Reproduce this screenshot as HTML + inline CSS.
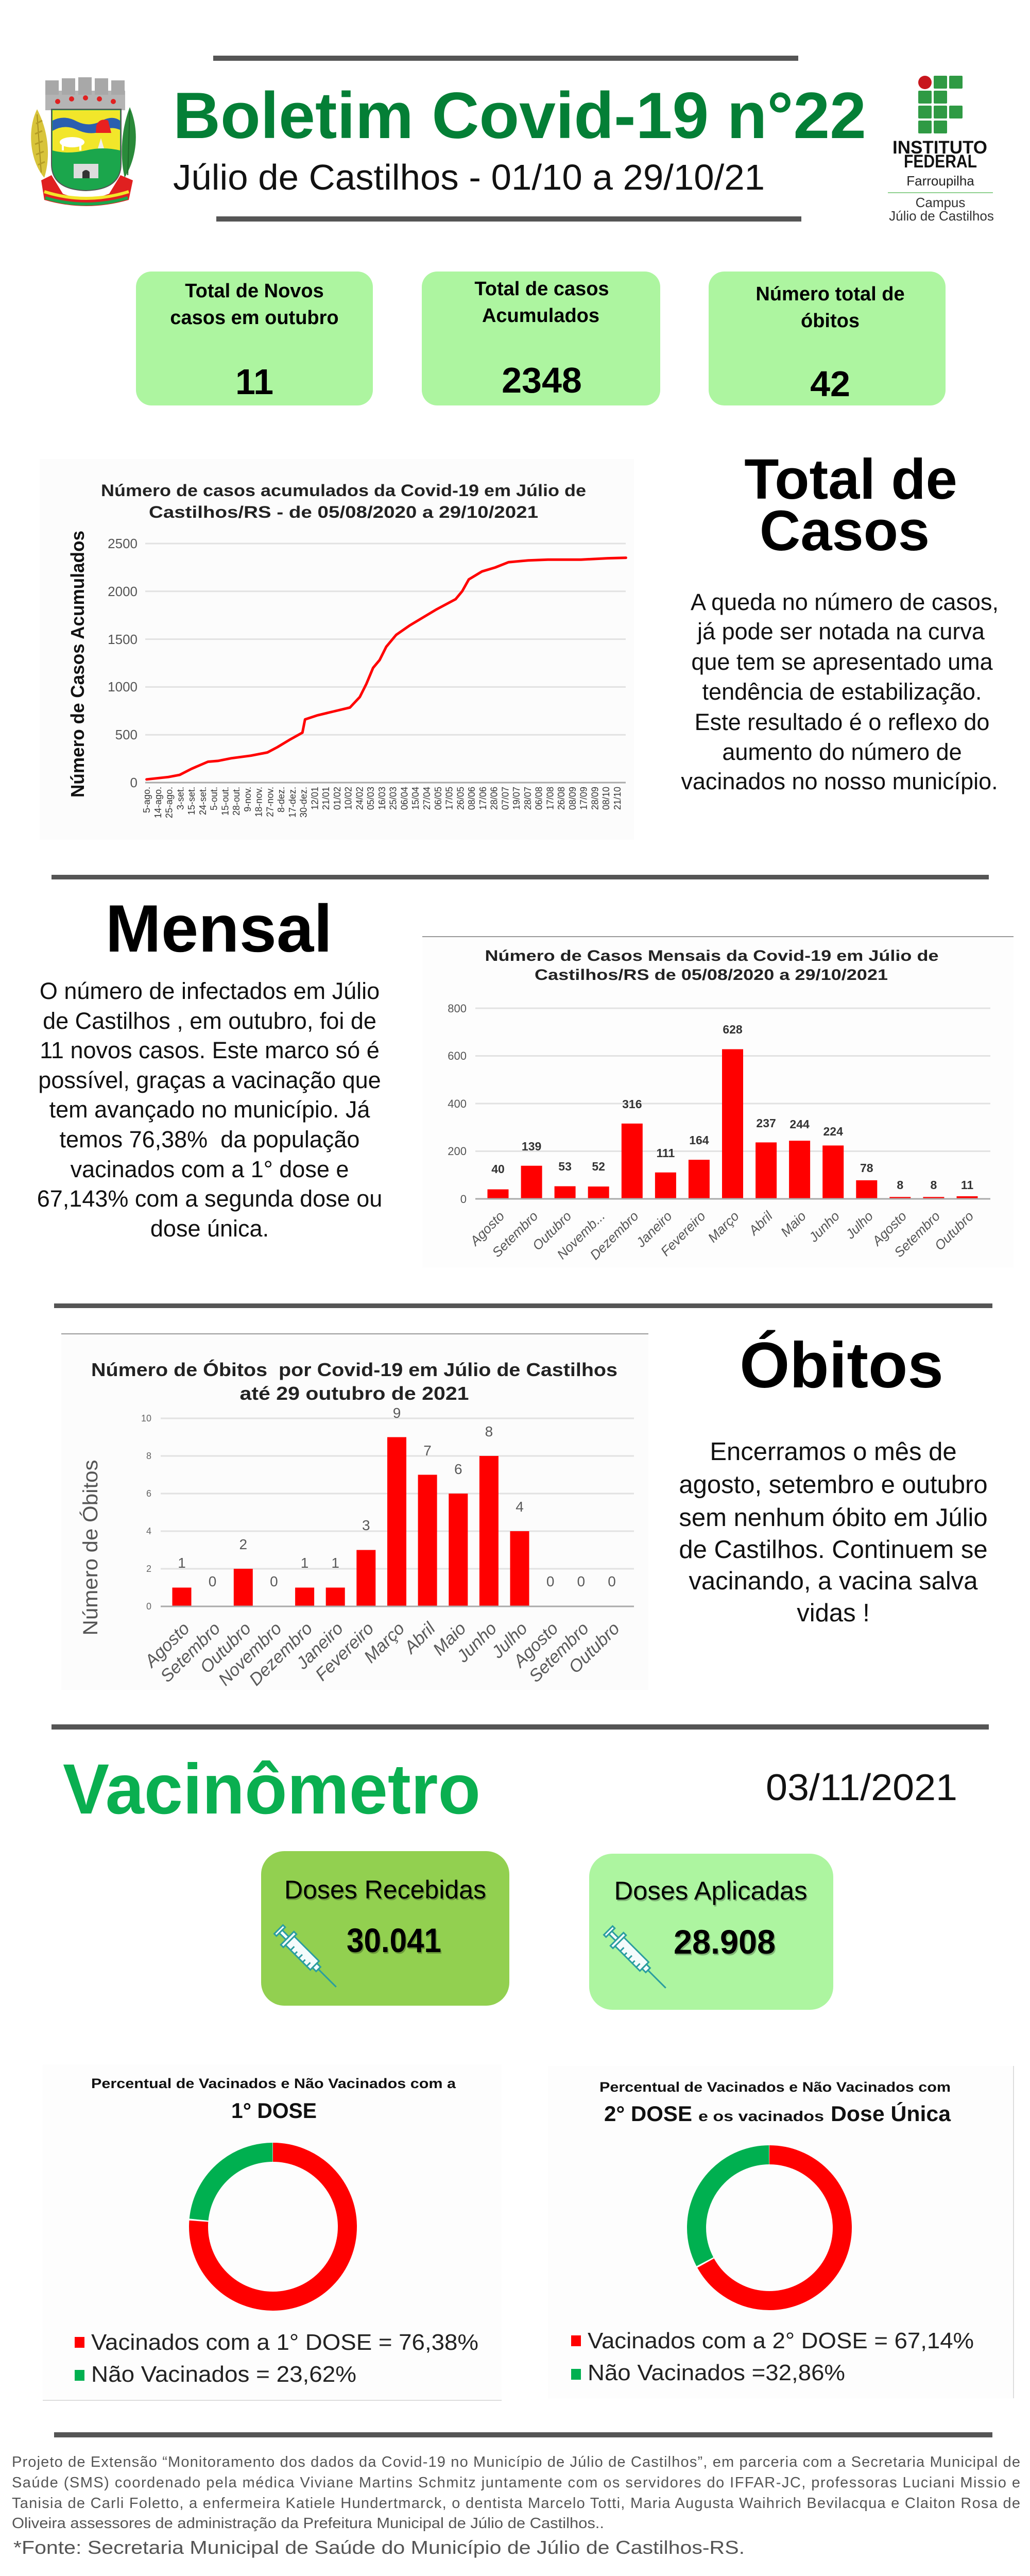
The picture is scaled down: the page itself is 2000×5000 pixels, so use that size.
<!DOCTYPE html>
<html><head><meta charset="utf-8"><title>Boletim Covid-19 n°22</title>
<style>
html,body{margin:0;padding:0;background:#fff;}
svg{display:block;}
text{font-family:"Liberation Sans",Arial,sans-serif;}
</style></head>
<body>
<svg xmlns="http://www.w3.org/2000/svg" width="2000" height="5000" viewBox="0 0 2000 5000">
<rect x="0" y="0" width="2000" height="5000" fill="#ffffff"/>

<!-- ================= HEADER ================= -->
<rect x="414" y="108" width="1136" height="10" fill="#555"/>
<rect x="420" y="420" width="1136" height="10" fill="#555"/>

<!-- crest -->
<g>
  <path d="M86,345 C58,312 52,252 72,212 C92,250 100,300 86,345Z" fill="#d8c43a"/>
  <path d="M80,335 L72,222" stroke="#a89020" stroke-width="2" fill="none"/>
  <path d="M70,240 l12,-6 M68,260 l14,-6 M68,280 l15,-6 M70,300 l15,-6 M74,320 l13,-6" stroke="#b59d25" stroke-width="3"/>
  <path d="M242,345 C268,302 270,250 252,208 C236,250 232,300 242,345Z" fill="#2a8a3a"/>
  <path d="M248,340 L252,215" stroke="#1c6a2a" stroke-width="2"/>
  <rect x="88" y="176" width="155" height="38" fill="#b4b4b4"/>
  <rect x="88" y="156" width="26" height="28" fill="#a8a8a8"/>
  <rect x="120" y="152" width="26" height="32" fill="#a8a8a8"/>
  <rect x="152" y="150" width="26" height="34" fill="#a8a8a8"/>
  <rect x="184" y="152" width="26" height="32" fill="#a8a8a8"/>
  <rect x="216" y="156" width="26" height="28" fill="#a8a8a8"/>
  <circle cx="112" cy="197" r="5" fill="#e02020"/>
  <circle cx="139" cy="192" r="5" fill="#e02020"/>
  <circle cx="166" cy="190" r="5" fill="#e02020"/>
  <circle cx="193" cy="192" r="5" fill="#e02020"/>
  <circle cx="220" cy="197" r="5" fill="#e02020"/>
  <path d="M100,212 H235 V318 Q235,368 167,370 Q100,368 100,318 Z" fill="#1ba64c" stroke="#555" stroke-width="2"/>
  <path d="M102,214 H233 V292 Q200,284 167,292 Q130,300 102,292 Z" fill="#f2e62a"/>
  <path d="M102,234 Q125,222 150,236 Q175,248 200,233 Q220,224 233,234 V252 Q215,244 200,254 Q175,264 150,252 Q125,240 102,254 Z" fill="#2b5fb0"/>
  <path d="M187,244 Q193,228 210,234 L216,258 H186 Z" fill="#e82020"/>
  <ellipse cx="140" cy="276" rx="24" ry="10" fill="#fff"/>
  <rect x="120" y="280" width="4" height="12" fill="#fff"/><rect x="154" y="280" width="4" height="12" fill="#fff"/>
  <path d="M196,268 L190,288 H202 Z" fill="#eee"/>
  <rect x="143" y="318" width="48" height="28" fill="#dcdcdc"/>
  <path d="M160,346 V334 Q167,326 174,334 V346 Z" fill="#333"/>
  <path d="M80,350 L100,340 L122,376 Q167,394 212,376 L234,340 L258,350 L250,388 Q167,412 86,388 Z" fill="#e02020"/>
  <path d="M86,372 Q167,398 250,372" stroke="#f2e62a" stroke-width="6" fill="none"/>
  <path d="M88,384 Q167,408 248,384" stroke="#1ba64c" stroke-width="6" fill="none"/>
</g>

<text x="336" y="268" font-size="127" font-weight="bold" fill="#047f36" textLength="1346" lengthAdjust="spacingAndGlyphs">Boletim Covid-19 n°22</text>
<text x="336" y="368" font-size="70" fill="#111" textLength="1149" lengthAdjust="spacingAndGlyphs">Júlio de Castilhos - 01/10 a 29/10/21</text>

<!-- IF logo -->
<g fill="#2f9a44">
  <circle cx="1796" cy="160" r="13" fill="#c8161d"/>
  <rect x="1813" y="147" width="26" height="25" rx="2"/>
  <rect x="1843" y="147" width="26" height="25" rx="2"/>
  <rect x="1783" y="176" width="26" height="25" rx="2"/>
  <rect x="1813" y="176" width="26" height="25" rx="2"/>
  <rect x="1783" y="205" width="26" height="25" rx="2"/>
  <rect x="1813" y="205" width="26" height="25" rx="2"/>
  <rect x="1843" y="205" width="26" height="25" rx="2"/>
  <rect x="1783" y="234" width="26" height="25" rx="2"/>
  <rect x="1813" y="234" width="26" height="25" rx="2"/>
</g>
<text x="1825" y="298" font-size="35" font-weight="bold" fill="#111" text-anchor="middle" textLength="184" lengthAdjust="spacingAndGlyphs">INSTITUTO</text>
<text x="1826" y="325" font-size="35" font-weight="bold" fill="#111" text-anchor="middle" textLength="142" lengthAdjust="spacingAndGlyphs">FEDERAL</text>
<text x="1826" y="360" font-size="26" fill="#222" text-anchor="middle">Farroupilha</text>
<rect x="1724" y="373" width="204" height="2" fill="#8fd08f"/>
<text x="1826" y="402" font-size="26" fill="#333" text-anchor="middle">Campus</text>
<text x="1828" y="428" font-size="26" fill="#333" text-anchor="middle">Júlio de Castilhos</text>

<!-- ================= STAT BOXES ================= -->
<rect x="264" y="527" width="460" height="260" rx="30" fill="#adf5a0"/>
<rect x="819" y="527" width="463" height="260" rx="30" fill="#adf5a0"/>
<rect x="1376" y="527" width="460" height="260" rx="30" fill="#adf5a0"/>
<g font-weight="bold" fill="#000" text-anchor="middle">
  <text x="494" y="577" font-size="38">Total de Novos</text>
  <text x="494" y="629" font-size="38">casos em outubro</text>
  <text x="494" y="765" font-size="70">11</text>
  <text x="1052" y="573" font-size="38">Total de casos</text>
  <text x="1050" y="625" font-size="38">Acumulados</text>
  <text x="1052" y="762" font-size="70">2348</text>
  <text x="1612" y="583" font-size="38">Número total de</text>
  <text x="1612" y="635" font-size="38">óbitos</text>
  <text x="1612" y="769" font-size="70">42</text>
</g>

<!-- ================= CHART 1 ================= -->
<rect x="77" y="891" width="1154" height="739" fill="#fcfcfc"/>
<g font-weight="bold" fill="#222" text-anchor="middle" font-size="32">
  <text x="667" y="963" textLength="942" lengthAdjust="spacingAndGlyphs">Número de casos acumulados da Covid-19 em Júlio de</text>
  <text x="667" y="1005" textLength="756" lengthAdjust="spacingAndGlyphs">Castilhos/RS - de 05/08/2020 a 29/10/2021</text>
</g>
<g stroke="#e2e2e2" stroke-width="3">
  <line x1="282" y1="1055" x2="1215" y2="1055"/>
  <line x1="282" y1="1147.8" x2="1215" y2="1147.8"/>
  <line x1="282" y1="1240.6" x2="1215" y2="1240.6"/>
  <line x1="282" y1="1333.4" x2="1215" y2="1333.4"/>
  <line x1="282" y1="1426.2" x2="1215" y2="1426.2"/>
</g>
<line x1="282" y1="1519" x2="1215" y2="1519" stroke="#aaa" stroke-width="3"/>
<g font-size="26" fill="#555" text-anchor="end">
  <text x="267" y="1064">2500</text>
  <text x="267" y="1157">2000</text>
  <text x="267" y="1250">1500</text>
  <text x="267" y="1342">1000</text>
  <text x="267" y="1435">500</text>
  <text x="267" y="1528">0</text>
</g>
<text transform="translate(163,1289) rotate(-90)" font-size="36" font-weight="bold" fill="#111" text-anchor="middle" textLength="518" lengthAdjust="spacingAndGlyphs">Número de Casos Acumulados</text>
<path d="M284.6,1512.8 L326.9,1508.2 L348.7,1504.1 L371.8,1492.3 L403.8,1478.5 L423.1,1476.9 L448.7,1471.8 L487.2,1466.7 L519.2,1460.5 L538.5,1450.3 L564.1,1434.9 L587.2,1422.1 L592.3,1396.4 L615.4,1388.7 L647.4,1381 L679.5,1373.3 L698.7,1352.8 L711.5,1327.2 L724.4,1296.4 L737.2,1281 L750,1255.4 L769.2,1232.3 L794.9,1214.4 L820.5,1199 L846.2,1183.6 L884.6,1163.1 L897.4,1147.7 L910.3,1124.6 L935.9,1109.2 L961.5,1101.5 L987.2,1091.3 L1025.6,1087.7 L1064.1,1086.2 L1128.2,1086.2 L1179.5,1083.6 L1215.4,1082.6" fill="none" stroke="#f00" stroke-width="5" stroke-linejoin="round" stroke-linecap="round"/>
<g font-size="18" fill="#333" text-anchor="end" style="font-family:'Liberation Mono',monospace">
  <text transform="translate(291,1527) rotate(-90)">5-ago.</text>
  <text transform="translate(312.8,1527) rotate(-90)">14-ago.</text>
  <text transform="translate(334.5,1527) rotate(-90)">25-ago.</text>
  <text transform="translate(356.3,1527) rotate(-90)">3-set.</text>
  <text transform="translate(378,1527) rotate(-90)">15-set.</text>
  <text transform="translate(399.8,1527) rotate(-90)">24-set.</text>
  <text transform="translate(421.6,1527) rotate(-90)">5-out.</text>
  <text transform="translate(443.3,1527) rotate(-90)">15-out.</text>
  <text transform="translate(465.1,1527) rotate(-90)">28-out.</text>
  <text transform="translate(486.8,1527) rotate(-90)">9-nov.</text>
  <text transform="translate(508.6,1527) rotate(-90)">18-nov.</text>
  <text transform="translate(530.4,1527) rotate(-90)">27-nov.</text>
  <text transform="translate(552.1,1527) rotate(-90)">8-dez.</text>
  <text transform="translate(573.9,1527) rotate(-90)">17-dez.</text>
  <text transform="translate(595.6,1527) rotate(-90)">30-dez.</text>
  <text transform="translate(617.4,1527) rotate(-90)">12/01</text>
  <text transform="translate(639.2,1527) rotate(-90)">21/01</text>
  <text transform="translate(660.9,1527) rotate(-90)">01/02</text>
  <text transform="translate(682.7,1527) rotate(-90)">10/02</text>
  <text transform="translate(704.4,1527) rotate(-90)">24/02</text>
  <text transform="translate(726.2,1527) rotate(-90)">05/03</text>
  <text transform="translate(748,1527) rotate(-90)">16/03</text>
  <text transform="translate(769.7,1527) rotate(-90)">25/03</text>
  <text transform="translate(791.5,1527) rotate(-90)">06/04</text>
  <text transform="translate(813.2,1527) rotate(-90)">15/04</text>
  <text transform="translate(835,1527) rotate(-90)">27/04</text>
  <text transform="translate(856.8,1527) rotate(-90)">06/05</text>
  <text transform="translate(878.5,1527) rotate(-90)">17/05</text>
  <text transform="translate(900.3,1527) rotate(-90)">26/05</text>
  <text transform="translate(922,1527) rotate(-90)">08/06</text>
  <text transform="translate(943.8,1527) rotate(-90)">17/06</text>
  <text transform="translate(965.6,1527) rotate(-90)">28/06</text>
  <text transform="translate(987.3,1527) rotate(-90)">07/07</text>
  <text transform="translate(1009.1,1527) rotate(-90)">19/07</text>
  <text transform="translate(1030.8,1527) rotate(-90)">28/07</text>
  <text transform="translate(1052.6,1527) rotate(-90)">06/08</text>
  <text transform="translate(1074.4,1527) rotate(-90)">17/08</text>
  <text transform="translate(1096.1,1527) rotate(-90)">26/08</text>
  <text transform="translate(1117.9,1527) rotate(-90)">08/09</text>
  <text transform="translate(1139.6,1527) rotate(-90)">17/09</text>
  <text transform="translate(1161.4,1527) rotate(-90)">28/09</text>
  <text transform="translate(1183.2,1527) rotate(-90)">08/10</text>
  <text transform="translate(1204.9,1527) rotate(-90)">21/10</text>
</g>

<!-- Total de Casos text -->
<text x="1652" y="968" font-size="110" font-weight="bold" fill="#000" text-anchor="middle">Total de</text>
<text x="1640" y="1068" font-size="110" font-weight="bold" fill="#000" text-anchor="middle">Casos</text>
<g font-size="45" fill="#111" text-anchor="middle">
  <text x="1640" y="1184">A queda no número de casos,</text>
  <text x="1633" y="1241">já pode ser notada na curva</text>
  <text x="1635" y="1300">que tem se apresentado uma</text>
  <text x="1635" y="1358">tendência de estabilização.</text>
  <text x="1635" y="1417">Este resultado é o reflexo do</text>
  <text x="1635" y="1475">aumento do número de</text>
  <text x="1630" y="1532">vacinados no nosso município.</text>
</g>

<!-- ================= MENSAL ================= -->
<rect x="100" y="1698" width="1820" height="9" fill="#555"/>
<text x="425" y="1847" font-size="130" font-weight="bold" fill="#000" text-anchor="middle">Mensal</text>
<g font-size="45" fill="#111" text-anchor="middle">
  <text x="407" y="1939">O número de infectados em Júlio</text>
  <text x="407" y="1997">de Castilhos , em outubro, foi de</text>
  <text x="407" y="2054">11 novos casos. Este marco só é</text>
  <text x="407" y="2112">possível, graças a vacinação que</text>
  <text x="407" y="2169">tem avançado no município. Já</text>
  <text x="407" y="2227">temos 76,38%&#160; da população</text>
  <text x="407" y="2285">vacinados com a 1° dose e</text>
  <text x="407" y="2342">67,143% com a segunda dose ou</text>
  <text x="407" y="2400">dose única.</text>
</g>

<rect x="820" y="1818" width="1148" height="642" fill="#fdfdfd"/>
<line x1="820" y1="1818" x2="1968" y2="1818" stroke="#999" stroke-width="2"/>
<g font-weight="bold" fill="#222" text-anchor="middle" font-size="30">
  <text x="1382" y="1865" textLength="881" lengthAdjust="spacingAndGlyphs">Número de Casos Mensais da Covid-19 em Júlio de</text>
  <text x="1381" y="1902" textLength="686" lengthAdjust="spacingAndGlyphs">Castilhos/RS de 05/08/2020 a 29/10/2021</text>
</g>
<g stroke="#e2e2e2" stroke-width="3">
  <line x1="923" y1="1957" x2="1923" y2="1957"/>
  <line x1="923" y1="2049.5" x2="1923" y2="2049.5"/>
  <line x1="923" y1="2142" x2="1923" y2="2142"/>
  <line x1="923" y1="2234.5" x2="1923" y2="2234.5"/>
</g>
<g font-size="22" fill="#555" text-anchor="end">
  <text x="906" y="1965">800</text>
  <text x="906" y="2057">600</text>
  <text x="906" y="2150">400</text>
  <text x="906" y="2242">200</text>
  <text x="906" y="2335">0</text>
</g>
<g fill="#f00">
  <rect x="946.5" y="2308.5" width="41" height="18.5"/>
  <rect x="1011.6" y="2262.7" width="41" height="64.3"/>
  <rect x="1076.6" y="2302.5" width="41" height="24.5"/>
  <rect x="1141.7" y="2303" width="41" height="24"/>
  <rect x="1206.8" y="2180.8" width="41" height="146.2"/>
  <rect x="1271.9" y="2275.7" width="41" height="51.3"/>
  <rect x="1336.9" y="2251.1" width="41" height="75.9"/>
  <rect x="1402" y="2036.5" width="41" height="290.5"/>
  <rect x="1467.1" y="2217.4" width="41" height="109.6"/>
  <rect x="1532.1" y="2214.1" width="41" height="112.9"/>
  <rect x="1597.2" y="2223.4" width="41" height="103.6"/>
  <rect x="1662.3" y="2290.9" width="41" height="36.1"/>
  <rect x="1727.3" y="2323.3" width="41" height="3.7"/>
  <rect x="1792.4" y="2323.3" width="41" height="3.7"/>
  <rect x="1857.5" y="2321.9" width="41" height="5.1"/>
</g>
<line x1="923" y1="2327" x2="1923" y2="2327" stroke="#aaa" stroke-width="3"/>
<g font-size="23" font-weight="bold" fill="#333" text-anchor="middle">
  <text x="967" y="2277">40</text>
  <text x="1032.1" y="2233">139</text>
  <text x="1097.1" y="2272">53</text>
  <text x="1162.2" y="2272">52</text>
  <text x="1227.3" y="2151">316</text>
  <text x="1292.4" y="2246">111</text>
  <text x="1357.4" y="2221">164</text>
  <text x="1422.5" y="2006">628</text>
  <text x="1487.6" y="2188">237</text>
  <text x="1552.6" y="2190">244</text>
  <text x="1617.7" y="2204">224</text>
  <text x="1682.8" y="2275">78</text>
  <text x="1747.8" y="2308">8</text>
  <text x="1812.9" y="2308">8</text>
  <text x="1878" y="2308">11</text>
</g>
<g font-size="26" font-style="italic" fill="#555" text-anchor="end">
  <text transform="translate(981,2362) rotate(-45)">Agosto</text>
  <text transform="translate(1046.1,2362) rotate(-45)">Setembro</text>
  <text transform="translate(1111.1,2362) rotate(-45)">Outubro</text>
  <text transform="translate(1176.2,2362) rotate(-45)">Novemb...</text>
  <text transform="translate(1241.3,2362) rotate(-45)">Dezembro</text>
  <text transform="translate(1306.4,2362) rotate(-45)">Janeiro</text>
  <text transform="translate(1371.4,2362) rotate(-45)">Fevereiro</text>
  <text transform="translate(1436.5,2362) rotate(-45)">Março</text>
  <text transform="translate(1501.6,2362) rotate(-45)">Abril</text>
  <text transform="translate(1566.6,2362) rotate(-45)">Maio</text>
  <text transform="translate(1631.7,2362) rotate(-45)">Junho</text>
  <text transform="translate(1696.8,2362) rotate(-45)">Julho</text>
  <text transform="translate(1761.8,2362) rotate(-45)">Agosto</text>
  <text transform="translate(1826.9,2362) rotate(-45)">Setembro</text>
  <text transform="translate(1892,2362) rotate(-45)">Outubro</text>
</g>

<!-- ================= ÓBITOS ================= -->
<rect x="105" y="2530" width="1822" height="9" fill="#555"/>
<rect x="119" y="2589" width="1140" height="691" fill="#fcfcfc"/>
<line x1="119" y1="2589" x2="1259" y2="2589" stroke="#999" stroke-width="2"/>
<g font-weight="bold" fill="#222" text-anchor="middle" font-size="36">
  <text x="688" y="2671" textLength="1022" lengthAdjust="spacingAndGlyphs">Número de Óbitos&#160; por Covid-19 em Júlio de Castilhos</text>
  <text x="688" y="2717" textLength="445" lengthAdjust="spacingAndGlyphs">até 29 outubro de 2021</text>
</g>
<g stroke="#e2e2e2" stroke-width="3">
  <line x1="312" y1="2753" x2="1231" y2="2753"/>
  <line x1="312" y1="2826" x2="1231" y2="2826"/>
  <line x1="312" y1="2899" x2="1231" y2="2899"/>
  <line x1="312" y1="2972" x2="1231" y2="2972"/>
  <line x1="312" y1="3045" x2="1231" y2="3045"/>
</g>
<g font-size="18" fill="#666" text-anchor="end">
  <text x="294" y="2759">10</text>
  <text x="294" y="2832">8</text>
  <text x="294" y="2905">6</text>
  <text x="294" y="2978">4</text>
  <text x="294" y="3051">2</text>
  <text x="294" y="3124">0</text>
</g>
<text transform="translate(189,3004) rotate(-90)" font-size="40" fill="#555" text-anchor="middle" textLength="341" lengthAdjust="spacingAndGlyphs">Número de Óbitos</text>
<g fill="#f00">
  <rect x="334.5" y="3081.5" width="37" height="36.5"/>
  <rect x="453.8" y="3045" width="37" height="73"/>
  <rect x="573.1" y="3081.5" width="37" height="36.5"/>
  <rect x="632.7" y="3081.5" width="37" height="36.5"/>
  <rect x="692.3" y="3008.5" width="37" height="109.5"/>
  <rect x="752" y="2789.5" width="37" height="328.5"/>
  <rect x="811.6" y="2862.5" width="37" height="255.5"/>
  <rect x="871.3" y="2899" width="37" height="219"/>
  <rect x="930.9" y="2826" width="37" height="292"/>
  <rect x="990.5" y="2972" width="37" height="146"/>
</g>
<line x1="312" y1="3118" x2="1231" y2="3118" stroke="#aaa" stroke-width="3"/>
<g font-size="28" fill="#595959" text-anchor="middle">
  <text x="353" y="3043">1</text>
  <text x="412.6" y="3079">0</text>
  <text x="472.3" y="3007">2</text>
  <text x="531.9" y="3079">0</text>
  <text x="591.6" y="3043">1</text>
  <text x="651.2" y="3043">1</text>
  <text x="710.8" y="2970">3</text>
  <text x="770.5" y="2752">9</text>
  <text x="830.1" y="2825">7</text>
  <text x="889.8" y="2861">6</text>
  <text x="949.4" y="2788">8</text>
  <text x="1009" y="2934">4</text>
  <text x="1068.7" y="3079">0</text>
  <text x="1128.3" y="3079">0</text>
  <text x="1188" y="3079">0</text>
</g>
<g font-size="34" font-style="italic" fill="#595959" text-anchor="end">
  <text transform="translate(370,3163) rotate(-45)">Agosto</text>
  <text transform="translate(429.6,3163) rotate(-45)">Setembro</text>
  <text transform="translate(489.3,3163) rotate(-45)">Outubro</text>
  <text transform="translate(548.9,3163) rotate(-45)">Novembro</text>
  <text transform="translate(608.6,3163) rotate(-45)">Dezembro</text>
  <text transform="translate(668.2,3163) rotate(-45)">Janeiro</text>
  <text transform="translate(727.8,3163) rotate(-45)">Fevereiro</text>
  <text transform="translate(787.5,3163) rotate(-45)">Março</text>
  <text transform="translate(847.1,3163) rotate(-45)">Abril</text>
  <text transform="translate(906.8,3163) rotate(-45)">Maio</text>
  <text transform="translate(966.4,3163) rotate(-45)">Junho</text>
  <text transform="translate(1026,3163) rotate(-45)">Julho</text>
  <text transform="translate(1085.7,3163) rotate(-45)">Agosto</text>
  <text transform="translate(1145.3,3163) rotate(-45)">Setembro</text>
  <text transform="translate(1205,3163) rotate(-45)">Outubro</text>
</g>

<text x="1634" y="2693" font-size="125" font-weight="bold" fill="#000" text-anchor="middle">Óbitos</text>
<g font-size="49" fill="#111" text-anchor="middle">
  <text x="1618" y="2834">Encerramos o mês de</text>
  <text x="1618" y="2898">agosto, setembro e outubro</text>
  <text x="1618" y="2962">sem nenhum óbito em Júlio</text>
  <text x="1618" y="3024">de Castilhos. Continuem se</text>
  <text x="1618" y="3085">vacinando, a vacina salva</text>
  <text x="1618" y="3147">vidas !</text>
</g>

<!-- ================= VACINÔMETRO ================= -->
<rect x="100" y="3347" width="1820" height="10" fill="#555"/>
<text x="122" y="3520" font-size="138" font-weight="bold" fill="#0aaf50" textLength="811" lengthAdjust="spacingAndGlyphs" style="font-weight:600">Vacinômetro</text>
<text x="1487" y="3494" font-size="72" fill="#111" textLength="372" lengthAdjust="spacingAndGlyphs">03/11/2021</text>

<rect x="507" y="3593" width="482" height="300" rx="45" fill="#92d050"/>
<rect x="1144" y="3598" width="474" height="303" rx="45" fill="#adf5a0"/>
<g text-anchor="middle">
  <text x="750" y="3688" font-size="50" fill="#000" opacity="0.25" textLength="392" lengthAdjust="spacingAndGlyphs">Doses Recebidas</text>
  <text x="748" y="3685" font-size="50" fill="#000" textLength="392" lengthAdjust="spacingAndGlyphs">Doses Recebidas</text>
  <text x="767" y="3792" font-size="66" font-weight="bold" fill="#000" opacity="0.25" textLength="184" lengthAdjust="spacingAndGlyphs">30.041</text>
  <text x="765" y="3789" font-size="66" font-weight="bold" fill="#000" textLength="184" lengthAdjust="spacingAndGlyphs">30.041</text>
  <text x="1382" y="3690" font-size="50" fill="#000" opacity="0.25" textLength="375" lengthAdjust="spacingAndGlyphs">Doses Aplicadas</text>
  <text x="1380" y="3687" font-size="50" fill="#000" textLength="375" lengthAdjust="spacingAndGlyphs">Doses Aplicadas</text>
  <text x="1409" y="3795" font-size="66" font-weight="bold" fill="#000" opacity="0.25" textLength="198" lengthAdjust="spacingAndGlyphs">28.908</text>
  <text x="1407" y="3792" font-size="66" font-weight="bold" fill="#000" textLength="198" lengthAdjust="spacingAndGlyphs">28.908</text>
</g>
<!-- syringes -->
<g transform="translate(541,3745) rotate(45)" stroke="#2a9d9f" stroke-width="3" fill="#f4fbfb">
  <rect x="0" y="-12" width="6" height="24"/>
  <rect x="6" y="-4" width="18" height="8"/>
  <rect x="24" y="-18" width="7" height="36"/>
  <rect x="31" y="-12" width="68" height="24"/>
  <line x1="45" y1="12" x2="45" y2="2"/><line x1="56" y1="12" x2="56" y2="5"/><line x1="67" y1="12" x2="67" y2="2"/><line x1="78" y1="12" x2="78" y2="5"/><line x1="89" y1="12" x2="89" y2="2"/>
  <rect x="99" y="-6" width="10" height="12"/>
  <line x1="109" y1="0" x2="158" y2="0"/>
</g>
<g transform="translate(1181,3747) rotate(45)" stroke="#2a9d9f" stroke-width="3" fill="#f4fbfb">
  <rect x="0" y="-12" width="6" height="24"/>
  <rect x="6" y="-4" width="18" height="8"/>
  <rect x="24" y="-18" width="7" height="36"/>
  <rect x="31" y="-12" width="68" height="24"/>
  <line x1="45" y1="12" x2="45" y2="2"/><line x1="56" y1="12" x2="56" y2="5"/><line x1="67" y1="12" x2="67" y2="2"/><line x1="78" y1="12" x2="78" y2="5"/><line x1="89" y1="12" x2="89" y2="2"/>
  <rect x="99" y="-6" width="10" height="12"/>
  <line x1="109" y1="0" x2="158" y2="0"/>
</g>

<!-- ================= DONUTS ================= -->
<rect x="83" y="4007" width="891" height="652" fill="#fdfdfd"/>
<line x1="83" y1="4659" x2="974" y2="4659" stroke="#ddd" stroke-width="2"/>
<rect x="1064" y="4010" width="904" height="645" fill="#fdfdfd"/>
<line x1="1968" y1="4010" x2="1968" y2="4655" stroke="#ddd" stroke-width="2"/>

<g font-weight="bold" fill="#111" text-anchor="middle">
  <text x="531" y="4053" font-size="27" textLength="708" lengthAdjust="spacingAndGlyphs">Percentual de Vacinados e Não Vacinados com a</text>
  <text x="532" y="4111" font-size="42" textLength="166" lengthAdjust="spacingAndGlyphs">1° DOSE</text>
  <text x="1505" y="4060" font-size="27" textLength="682" lengthAdjust="spacingAndGlyphs">Percentual de Vacinados e Não Vacinados com</text>
</g>
<g font-weight="bold" fill="#111">
  <text x="1173" y="4117" font-size="42" textLength="171" lengthAdjust="spacingAndGlyphs">2° DOSE</text>
  <text x="1356" y="4117" font-size="28" textLength="244" lengthAdjust="spacingAndGlyphs">e os vacinados</text>
  <text x="1613" y="4117" font-size="42" textLength="233" lengthAdjust="spacingAndGlyphs">Dose Única</text>
</g>

<g transform="rotate(-90 530 4322)" fill="none" stroke-width="37">
  <circle cx="530" cy="4322" r="144.5" stroke="#ff0000" stroke-dasharray="691.5 1000"/>
  <circle cx="530" cy="4322" r="144.5" stroke="#00b050" stroke-dasharray="212.4 1000" stroke-dashoffset="-694.5"/>
</g>
<g transform="rotate(-90 1494 4324)" fill="none" stroke-width="37">
  <circle cx="1494" cy="4324" r="141.5" stroke="#ff0000" stroke-dasharray="594.9 1000"/>
  <circle cx="1494" cy="4324" r="141.5" stroke="#00b050" stroke-dasharray="290.2 1000" stroke-dashoffset="-597.9"/>
</g>

<rect x="145" y="4536" width="19" height="21" fill="#ff0000"/>
<text x="177" y="4561" font-size="44" fill="#222" textLength="752" lengthAdjust="spacingAndGlyphs">Vacinados com a 1° DOSE = 76,38%</text>
<rect x="145" y="4600" width="19" height="21" fill="#00b050"/>
<text x="177" y="4623" font-size="44" fill="#222" textLength="515" lengthAdjust="spacingAndGlyphs">Não Vacinados = 23,62%</text>
<rect x="1109" y="4533" width="19" height="21" fill="#ff0000"/>
<text x="1141" y="4558" font-size="44" fill="#222" textLength="750" lengthAdjust="spacingAndGlyphs">Vacinados com a 2° DOSE = 67,14%</text>
<rect x="1109" y="4598" width="19" height="21" fill="#00b050"/>
<text x="1141" y="4620" font-size="44" fill="#222" textLength="500" lengthAdjust="spacingAndGlyphs">Não Vacinados =32,86%</text>

<!-- ================= FOOTER ================= -->
<rect x="105" y="4721" width="1822" height="10" fill="#555"/>
<g font-size="29" fill="#555">
  <text x="23" y="4788" textLength="1958" lengthAdjust="spacing">Projeto de Extensão “Monitoramento dos dados da Covid-19 no Município de Júlio de Castilhos”, em parceria com a Secretaria Municipal de</text>
  <text x="23" y="4828" textLength="1958" lengthAdjust="spacing">Saúde (SMS) coordenado pela médica Viviane Martins Schmitz juntamente com os servidores do IFFAR-JC, professoras Luciani Missio e</text>
  <text x="23" y="4868" textLength="1958" lengthAdjust="spacing">Tanisia de Carli Foletto, a enfermeira Katiele Hundertmarck, o dentista Marcelo Totti, Maria Augusta Waihrich Bevilacqua e Claiton Rosa de</text>
  <text x="23" y="4907" textLength="1150" lengthAdjust="spacingAndGlyphs">Oliveira assessores de administração da Prefeitura Municipal de Júlio de Castilhos..</text>
</g>
<text x="26" y="4957" font-size="36" fill="#555" textLength="1420" lengthAdjust="spacingAndGlyphs">*Fonte: Secretaria Municipal de Saúde do Município de Júlio de Castilhos-RS.</text>
</svg>
</body></html>
